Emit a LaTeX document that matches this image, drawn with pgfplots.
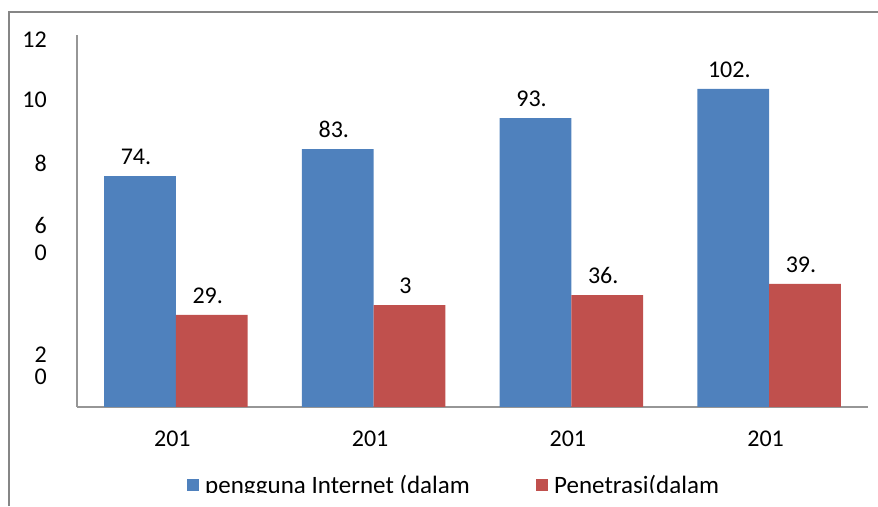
\documentclass[border=0pt]{standalone}
\usepackage{pgfplots}
\pgfplotsset{compat=1.18}
\usepackage{fontspec}
\setmainfont{Carlito}
\definecolor{blueS}{RGB}{79,129,189}
\definecolor{redS}{RGB}{192,80,77}
\definecolor{frameG}{RGB}{134,134,134}
\definecolor{axisG}{RGB}{150,150,150}
\newcommand{\lbl}{\fontsize{24}{28}\selectfont}
\newcommand{\lgd}{\fontsize{25}{29}\selectfont}
\begin{document}
\begin{tikzpicture}[x=1pt,y=1pt]
\path[use as bounding box] (0,0) rectangle (878,506);
\begin{axis}[
    at={(77pt,99pt)}, anchor=south west,
    scale only axis, width=791pt, height=372pt,
    xmin=-0.5, xmax=3.5, ymin=0, ymax=120,
    ybar=0pt, bar width=71.7pt,
    axis x line*=bottom, axis y line*=left,
    axis line style={draw=axisG, line width=1.5pt},
    major tick length=0pt,
    xtick={0,1,2,3}, xticklabels={201,201,201,201},
    xticklabel style={anchor=base, inner sep=0pt, yshift=-40pt, xshift=-3.5pt},
    ytick={7.1,14.5,47.4,56.1,76.1,96.5,116.1},
    yticklabels={0,2,0,6,8,10,12},
    yticklabel style={anchor=base east, inner sep=0pt, xshift=-30pt},
    tick label style={font=\lbl},
    point meta=explicit symbolic,
    nodes near coords,
    nodes near coords style={font=\lbl, anchor=base, inner sep=0pt, yshift=11.5pt, xshift=-4pt, text=black},
    legend columns=2,
    legend style={at={(axis description cs:0.1391,-0.1828)}, anchor=north west,
        draw=none, fill=none, inner sep=0pt, font=\lgd,
        nodes={inner sep=0pt},
        /tikz/every odd column/.append style={column sep=6pt}},
]
\addplot[fill=blueS, draw=none,
    legend image code/.code={\fill[blueS] (0pt,-6pt) rectangle (12pt,6pt);}]
    coordinates {(0,74.5)[74.] (1,83.2)[83.] (2,93.2)[93.] (3,102.6)[102.]};
\addlegendentry{\makebox[331pt][l]{pengguna Internet (dalam}}
\addplot[fill=redS, draw=none,
    legend image code/.code={\fill[redS] (0pt,-6pt) rectangle (12pt,6pt);}]
    coordinates {(0,29.7)[29.] (1,32.9)[3] (2,36.1)[36.] (3,39.7)[39.]};
\addlegendentry{Penetrasi(dalam}
\end{axis}
\fill[white] (10.5,0) rectangle (878,13);
\draw[frameG, line width=1.2pt] (9,0) -- (9,494) -- (878,494);
\end{tikzpicture}
\end{document}
